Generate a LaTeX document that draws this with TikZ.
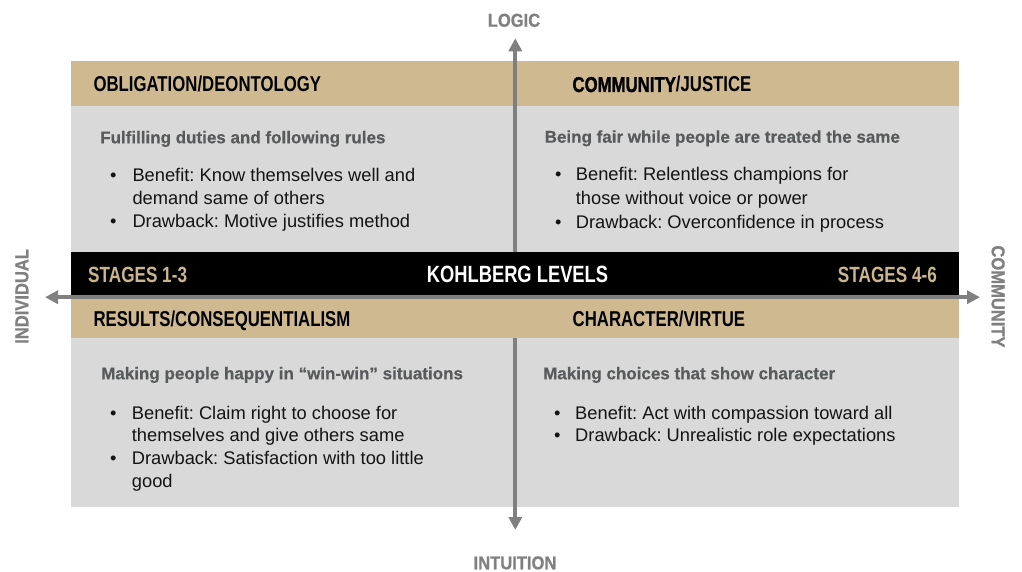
\documentclass[tikz,border=0pt]{standalone}
\usepackage{fontspec}
\setmainfont{Liberation Sans}
\newfontfamily\hdf[FakeStretch=0.78]{Liberation Sans}
\newfontfamily\hdfheavy[FakeStretch=0.78,FakeBold=1.2]{Liberation Sans}
\newfontfamily\axf[FakeStretch=0.89,FakeBold=0.8]{Liberation Sans}
\newfontfamily\subf[FakeBold=0.5]{Liberation Sans}
\usetikzlibrary{arrows.meta}
\frenchspacing
\definecolor{panelgray}{HTML}{D9D9D9}
\definecolor{tan}{HTML}{CFB991}
\definecolor{stagetan}{HTML}{CBB58E}
\definecolor{axisgray}{HTML}{808080}
\definecolor{subgray}{HTML}{595A5C}
\definecolor{bodyblack}{HTML}{141414}
\tikzset{
  axisline/.style={draw=axisgray,line width=4pt,{Triangle[length=13pt,width=13pt]}-{Triangle[length=13pt,width=13pt]}},
  axislabel/.style={inner sep=0pt,text=axisgray,font={\axf\bfseries\fontsize{18.6}{20}\selectfont}},
  header/.style={inner sep=0pt,anchor=base west,text=black,font={\hdf\bfseries\fontsize{21.5}{24}\selectfont}},
  subtitle/.style={inner sep=0pt,anchor=base west,text=subgray,font={\subf\bfseries\fontsize{17}{20}\selectfont}},
  bodyline/.style={inner sep=0pt,anchor=base west,text=bodyblack,font={\fontsize{18.3}{22}\selectfont}},
  bulletdot/.style={inner sep=0pt,anchor=base,text=bodyblack,font={\fontsize{18.3}{22}\selectfont}},
  stage/.style={inner sep=0pt,text=stagetan,font={\hdf\bfseries\fontsize{22}{24}\selectfont}},
}
\begin{document}
\begin{tikzpicture}[x=1pt,y=-1pt]
\useasboundingbox (0,0) rectangle (1022,572);
% panel and top band
\fill[panelgray] (71,61) rectangle (959,507);
\fill[tan] (71,61) rectangle (959,106);
% vertical axis (covered by the middle bands)
\coordinate (logicend) at (515.3,38.3);
\coordinate (intuitionend) at (515.3,530);
\draw[axisline] (intuitionend) -- (logicend);
% middle bands
\fill[black] (71,251.5) rectangle (959,295);
\fill[tan] (71,299.3) rectangle (959,337.5);
% horizontal axis
\coordinate (indivend) at (45,297.2);
\coordinate (commend) at (980,297.2);
\draw[axisline] (indivend) -- (commend);
% axis labels
\node[axislabel,anchor=base] (logic) at (514,26.7) {LOGIC};
\node[axislabel,anchor=base] (intuition) at (515,569.3) {INTUITION};
\node[axislabel,anchor=base,rotate=90] (individual) at (28.3,296.4) {INDIVIDUAL};
\node[axislabel,anchor=base,rotate=-90] (community) at (991.7,296.5) {COMMUNITY};
% band texts
\node[stage,anchor=base west] (st13) at (88,282.7) {STAGES 1-3};
\node[stage,anchor=base east] (st46) at (937,282.7) {STAGES 4-6};
\node[inner sep=0pt,anchor=base,text=white,font={\hdf\bfseries\fontsize{23.5}{26}\selectfont}] (kohlberg) at (517.5,282.7) {KOHLBERG LEVELS};
% headers
\node[header] (h1) at (93.3,92) {OBLIGATION/DEONTOLOGY};
\node[header] (h2) at (572.3,92) {{\hdfheavy COMMUNITY}/JUSTICE};
\node[header] (h3) at (93.3,326.7) {RESULTS/CONSEQUENTIALISM};
\node[header] (h4) at (572.5,326.7) {CHARACTER/VIRTUE};
% subtitles
\node[subtitle] (s1) at (100,143.3) {Fulfilling duties and following rules};
\node[subtitle] (s2) at (544.5,142.7) {Being fair while people are treated the same};
\node[subtitle] (s3) at (101,379.3) {Making people happy in “win-win” situations};
\node[subtitle] (s4) at (543,379.3) {Making choices that show character};
% upper left bullets
\node[bulletdot] (b1a) at (113.3,181.7) {•};
\node[bodyline] (t1a) at (132.3,181.7) {Benefit: Know themselves well and};
\node[bodyline] (t1b) at (132.3,204.3) {demand same of others};
\node[bulletdot] (b1b) at (113.3,227.2) {•};
\node[bodyline] (t1c) at (132.3,227.2) {Drawback: Motive justifies method};
% upper right bullets
\node[bulletdot] (b2a) at (558.3,180.9) {•};
\node[bodyline] (t2a) at (575.7,180.9) {Benefit: Relentless champions for};
\node[bodyline] (t2b) at (575.7,204.5) {those without voice or power};
\node[bulletdot] (b2b) at (558.3,228) {•};
\node[bodyline] (t2c) at (575.7,228) {Drawback: Overconfidence in process};
% lower left bullets
\node[bulletdot] (b3a) at (113.3,419.3) {•};
\node[bodyline] (t3a) at (131.7,419.3) {Benefit: Claim right to choose for};
\node[bodyline] (t3b) at (131.7,441.9) {themselves and give others same};
\node[bulletdot] (b3b) at (113.3,464.6) {•};
\node[bodyline] (t3c) at (131.7,464.6) {Drawback: Satisfaction with too little};
\node[bodyline] (t3d) at (131.7,487) {good};
% lower right bullets
\node[bulletdot] (b4a) at (557.3,419.3) {•};
\node[bodyline] (t4a) at (575,419.3) {Benefit: Act with compassion toward all};
\node[bulletdot] (b4b) at (557.3,441.9) {•};
\node[bodyline] (t4b) at (575,441.9) {Drawback: Unrealistic role expectations};
\end{tikzpicture}
\end{document}
